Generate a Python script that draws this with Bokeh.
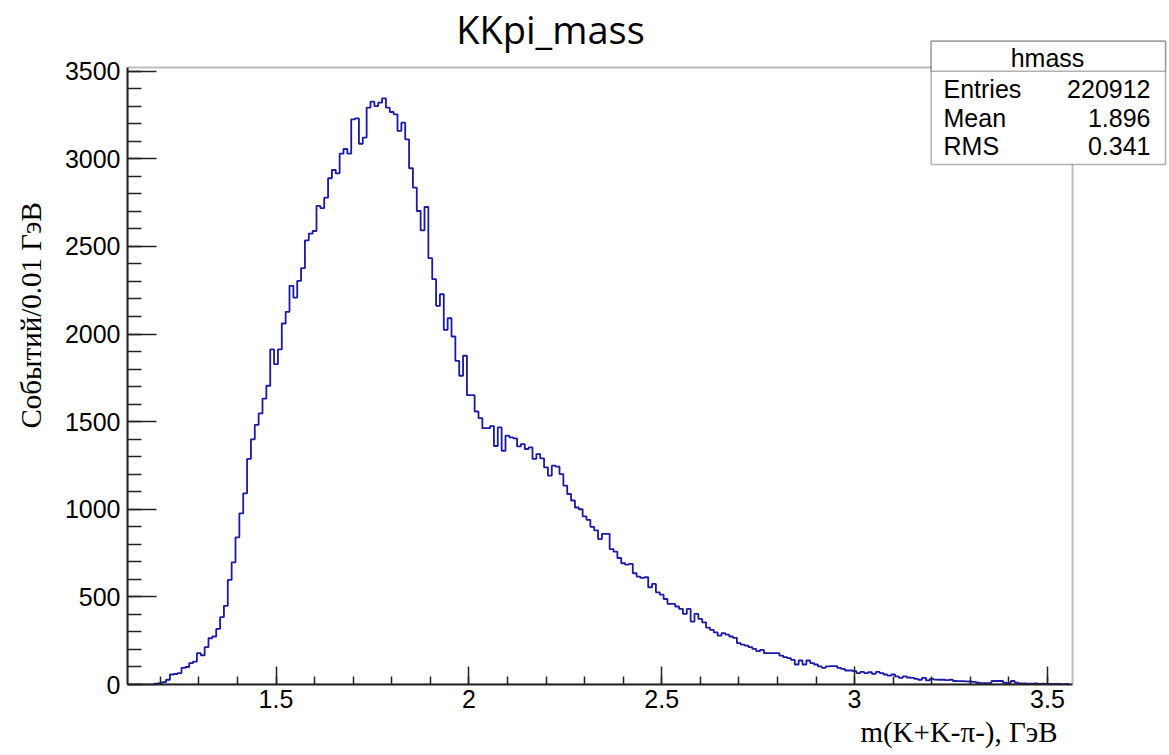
import numpy as np
from bokeh.plotting import figure
from bokeh.models import (Range1d, SingleIntervalTicker, NumeralTickFormatter, Label,
                          BoxAnnotation, Title)
from bokeh.embed import file_html
from bokeh.resources import INLINE

# ---------------- data ----------------
hist_range = (1.115, 3.565)      # axis range of the histogram, GeV
bin_low = 1.185                  # lower edge of first filled bin
bin_width = 0.01
y_max = 3521

counts = [
    5, 8, 13, 27, 57, 60, 65, 95, 100, 122,
    131, 179, 167, 213, 264, 274, 317, 384, 449, 597,
    697, 840, 977, 1091, 1287, 1399, 1482, 1547, 1631, 1705,
    1912, 1828, 1912, 2060, 2127, 2275, 2208, 2303, 2376, 2535,
    2573, 2588, 2731, 2718, 2778, 2889, 2936, 2917, 3029, 3056,
    3029, 3225, 3231, 3086, 3121, 3292, 3326, 3301, 3320, 3345,
    3292, 3267, 3254, 3159, 3206, 3111, 2946, 2835, 2702, 2592,
    2725, 2433, 2313, 2161, 2227, 2024, 2090, 1986, 1847, 1762,
    1876, 1651, 1651, 1558, 1520, 1463, 1463, 1475, 1361, 1467,
    1334, 1420, 1410, 1405, 1359, 1372, 1344, 1353, 1287, 1315,
    1290, 1239, 1192, 1249, 1243, 1201, 1135, 1087, 1050, 1010,
    1000, 960, 940, 900, 880, 830, 859, 859, 773, 758,
    722, 692, 684, 688, 635, 616, 608, 612, 555, 574,
    526, 513, 488, 460, 460, 445, 431, 403, 431, 359,
    403, 374, 355, 325, 312, 298, 279, 293, 285, 274,
    266, 236, 228, 222, 213, 203, 190, 198, 179, 179,
    179, 179, 165, 156, 150, 141, 114, 137, 114, 137,
    122, 114, 103, 95, 103, 105, 105, 95, 89, 80,
    80, 76, 65, 72, 65, 70, 61, 72, 65, 57,
    51, 57, 46, 38, 46, 40, 38, 32, 27, 38,
    23, 32, 28, 27, 27, 25, 27, 20, 19, 19,
    18, 17, 15, 10, 8, 8, 8, 20, 20, 20,
    10, 8, 20, 10, 6, 6, 5, 5, 6, 4,
    5, 4, 3, 4, 3, 2, 3,
]

title_text = "KKpi_mass"
x_title = "m(K+K-π-), ГэВ"
y_title = "Событий/0.01 ГэВ"
stat_title = "hmass"
stat_names = ["Entries", "Mean", "RMS"]
stat_values = ["220912", "1.896", "0.341"]

# ---------------- layout constants (pixels) ----------------
FL, FT, FB = 127, 67, 684          # ROOT frame left / top / bottom on the page
ROOT_W = 945                       # ROOT frame width
CANVAS_W, CANVAS_H = 1168, 753
px_per_x = ROOT_W / (hist_range[1] - hist_range[0])
px_per_y = (FB - FT) / y_max

def dx(px):
    return hist_range[0] + (px - FL) / px_per_x

def dy(py):
    return (FB - py) / px_per_y

# Bokeh frame covers everything right of / above the axes so that the
# title and statistics box can be drawn as annotations inside it
p = figure(frame_width=CANVAS_W - FL, frame_height=FB,
           min_border_left=FL, min_border_right=0,
           min_border_top=0, min_border_bottom=CANVAS_H - FB,
           x_range=Range1d(hist_range[0], dx(CANVAS_W)),
           y_range=Range1d(0, dy(0)),
           output_backend="svg", toolbar_location=None)
p.xgrid.visible = False
p.ygrid.visible = False
p.background_fill_color = "white"
p.border_fill_color = "white"
p.outline_line_color = None

# histogram outline as steps
n = len(counts)
edges = bin_low + bin_width * np.arange(n + 1)
xs = np.repeat(edges, 2)
ys = np.concatenate([[0], np.repeat(np.array(counts, dtype=float), 2), [0]])
p.line(xs, ys, line_color="#1a1aa6", line_width=1.8)

# ROOT frame box
p.add_layout(BoxAnnotation(left=hist_range[0], right=hist_range[1], bottom=0, top=y_max,
                           fill_color=None, line_color="#222222", line_width=2))

# axes
for ax in (p.xaxis[0], p.yaxis[0]):
    ax.axis_line_color = "#222222"
    ax.axis_line_width = 2
    ax.major_tick_line_color = "#222222"
    ax.minor_tick_line_color = "#222222"
    ax.major_tick_line_width = 1.5
    ax.minor_tick_line_width = 1.5
    ax.major_tick_out = 0
    ax.minor_tick_out = 0
    ax.major_label_text_font = "Liberation Sans"
    ax.major_label_text_font_size = "25px"
    ax.major_label_text_color = "black"

p.xaxis.ticker = SingleIntervalTicker(interval=0.5, num_minor_ticks=5)
p.xaxis.formatter = NumeralTickFormatter(format="0.[0]")
p.xaxis.bounds = hist_range
p.xaxis.major_tick_in = 18
p.xaxis.minor_tick_in = 8
p.xaxis.major_label_standoff = 5

p.yaxis.ticker = SingleIntervalTicker(interval=500, num_minor_ticks=5)
p.yaxis.bounds = (0, y_max)
p.yaxis.major_tick_in = 29
p.yaxis.minor_tick_in = 14
p.yaxis.major_label_standoff = 7

# axis titles (outside the frame -> side-panel titles)
p.add_layout(Title(text=x_title, align="right", offset=CANVAS_W - 1057,
                   vertical_align="bottom", standoff=7,
                   text_font="Liberation Serif", text_font_size="29px",
                   text_font_style="normal", text_color="black"), "below")
p.add_layout(Title(text=y_title, align="left", offset=FB - 428,
                   vertical_align="top", standoff=26,
                   text_font="Liberation Serif", text_font_size="29px",
                   text_font_style="normal", text_color="black"), "left")

# histogram title
p.add_layout(Label(x=dx(550), y=dy(28), text=title_text, text_font="Open Sans",
                   text_font_size="38px", text_align="center",
                   text_baseline="middle", text_color="black"))

# statistics box
box_l, box_r, box_t, box_div, box_b = dx(930.7), dx(1165), dy(40.7), dy(70.7), dy(164)
p.add_layout(BoxAnnotation(left=box_l, right=box_r, top=box_t, bottom=box_b,
                           fill_color="white", fill_alpha=1, line_color="black",
                           line_width=1.5, level="overlay"))
p.add_layout(BoxAnnotation(left=box_l, right=box_r, top=box_t, bottom=box_div,
                           fill_color="white", fill_alpha=1, line_color="black",
                           line_width=1.5, level="overlay"))
p.add_layout(Label(x=dx(1047), y=dy(57.5), text=stat_title, text_font="Liberation Sans",
                   text_font_size="25px", text_align="center", text_baseline="middle",
                   text_color="black", level="overlay"))
row_y = [88.3, 117.3, 145.5]
for name, val, ry in zip(stat_names, stat_values, row_y):
    p.add_layout(Label(x=dx(943), y=dy(ry), text=name, text_font="Liberation Sans",
                       text_font_size="25px", text_align="left", text_baseline="middle",
                       text_color="black", level="overlay"))
    p.add_layout(Label(x=dx(1150), y=dy(ry), text=val, text_font="Liberation Sans",
                       text_font_size="25px", text_align="right", text_baseline="middle",
                       text_color="black", level="overlay"))

open("out.html", "w").write(file_html(p, INLINE))
